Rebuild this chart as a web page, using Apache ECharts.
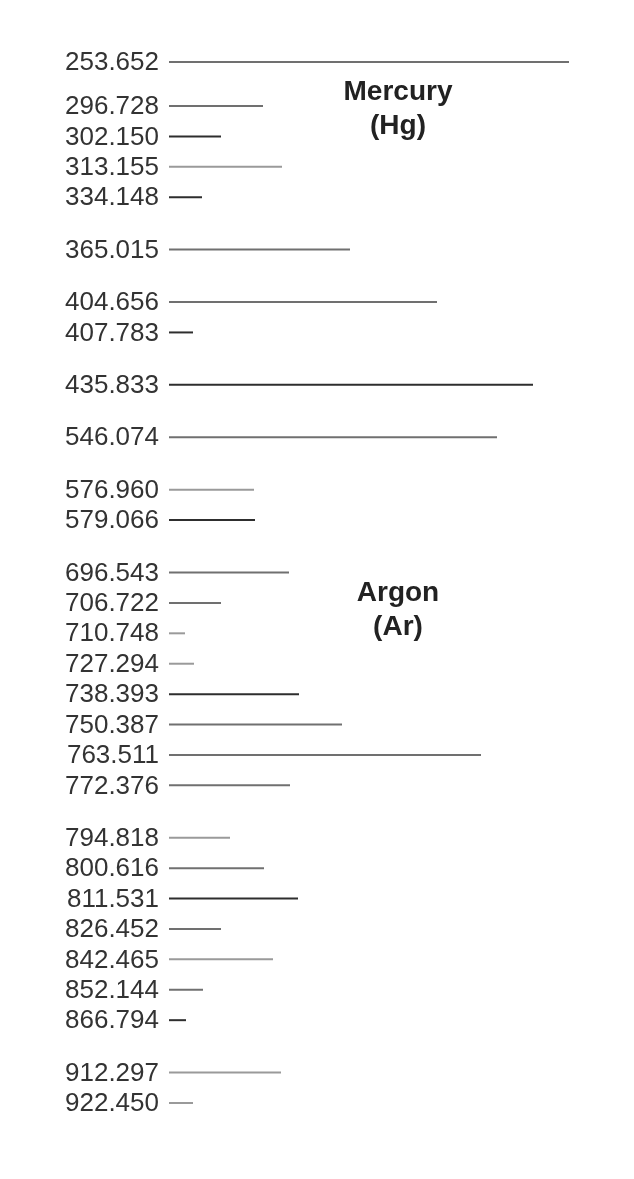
<!DOCTYPE html>
<html>
<head>
<meta charset="utf-8">
<script src="https://cdn.jsdelivr.net/npm/echarts@6/dist/echarts.min.js"></script>
<style>
html,body{margin:0;padding:0;background:#ffffff;}
#chart{width:634px;height:1179px;}
</style>
</head>
<body>
<div id="chart"></div>
<script>
// ---- data ----
const hgWavelengths = ['253.652','296.728','302.150','313.155','334.148','365.015','404.656','407.783','435.833','546.074','576.960','579.066'];
const hgIntensity   = [100, 23.5, 13, 28.25, 8.25, 45.25, 67, 6, 91, 82, 21.25, 21.5];
const arWavelengths = ['696.543','706.722','710.748','727.294','738.393','750.387','763.511','772.376','794.818','800.616','811.531','826.452','842.465','852.144','866.794','912.297','922.450'];
const arIntensity   = [30, 13, 4, 6.25, 32.5, 43.25, 78, 30.25, 15.25, 23.75, 32.25, 13, 26, 8.5, 4.25, 28, 6];
// wavelengths that start a new visual cluster (gap before them)
const clusterStarts = ['296.728','365.015','404.656','435.833','546.074','576.960','696.543','794.818','912.297'];

// ---- layout / style ----
const ROW = 1, GAP = 1.724, FIRST_GAP = 1.447;
const darkLines  = ['435.833','738.393','811.531','579.066','334.148','407.783','866.794','302.150'];
const lightLines = ['313.155','576.960','710.748','727.294','794.818','842.465','912.297','922.450'];
function lineColor(w){
  if (darkLines.includes(w)) return '#2e2e2e';
  if (lightLines.includes(w)) return '#9a9a9a';
  return '#707070';
}

const allW = hgWavelengths.concat(arWavelengths);
const allI = hgIntensity.concat(arIntensity);
let pos = 0;
const items = allW.map((w, i) => {
  if (i > 0) {
    if (clusterStarts.includes(w)) pos += (w === clusterStarts[0] ? FIRST_GAP : GAP);
    else pos += ROW;
  }
  return [allI[i], pos, w];
});
const maxPos = pos;

const chart = echarts.init(document.getElementById('chart'), null, {renderer:'canvas'});
chart.setOption({
  backgroundColor: '#ffffff',
  animation: false,
  title: [
    {text: 'Mercury\n(Hg)', left: 393, top: 70, textAlign: 'center',
     textStyle: {fontFamily: 'Liberation Sans', fontWeight: 'bold', fontSize: 28, lineHeight: 34, color: '#222', align: 'center'}},
    {text: 'Argon\n(Ar)', left: 393, top: 571, textAlign: 'center',
     textStyle: {fontFamily: 'Liberation Sans', fontWeight: 'bold', fontSize: 28, lineHeight: 34, color: '#222', align: 'center'}}
  ],
  grid: {left: 169, top: 62, width: 400, height: 1041, containLabel: false},
  xAxis: {type: 'value', min: 0, max: 100, show: false},
  yAxis: {type: 'value', min: 0, max: maxPos, inverse: true, show: false},
  series: [{
    type: 'custom',
    clip: false,
    data: items,
    renderItem: function(params, api){
      const v = api.value(0), p = api.value(1);
      const w = items[params.dataIndex][2];
      const s = api.coord([0, p]);
      const e = api.coord([v, p]);
      return {
        type: 'group',
        children: [
          {type: 'line', shape: {x1: s[0], y1: s[1], x2: e[0], y2: e[1]},
           style: {stroke: lineColor(w), lineWidth: 2}},
          {type: 'text', x: s[0] - 10, y: s[1] + 1,
           style: {text: w, align: 'right', verticalAlign: 'middle',
                   font: '26px "Liberation Sans"', fill: '#333'}}
        ]
      };
    }
  }]
});
</script>
</body>
</html>
